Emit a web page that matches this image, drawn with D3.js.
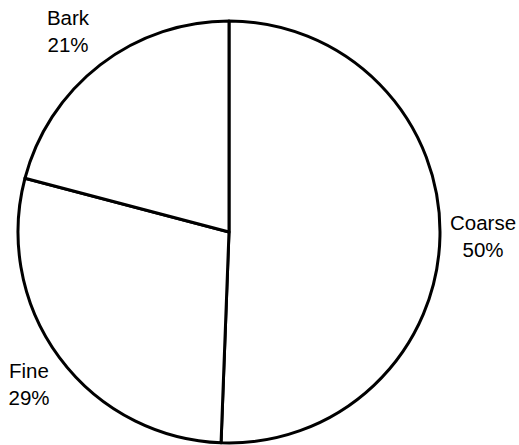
<!DOCTYPE html>
<html><head><meta charset="utf-8">
<script src="https://cdn.jsdelivr.net/npm/d3@7"></script>
<style>body{margin:0;background:#fff}svg{display:block}</style>
</head><body>
<svg id="c" width="519" height="445"></svg>
<script>
const categories = ["Coarse", "Fine", "Bark"];
const values = [50.6, 28.5, 20.9];
const pctLabels = ["50%", "29%", "21%"];

const svg = d3.select("#c");
const cx = 229, cy = 232, r = 211;
const g = svg.append("g").attr("transform", `translate(${cx},${cy})`);
const pie = d3.pie().sort(null).value(d => d)(values);
const arc = d3.arc().innerRadius(0).outerRadius(r);
g.selectAll("path").data(pie).join("path")
  .attr("d", arc).attr("fill", "#fff").attr("stroke", "#000")
  .attr("stroke-width", 3).attr("stroke-linejoin", "round");

const labelPos = [[483, 230], [29, 378], [68, 25]];
categories.forEach((c, i) => {
  const t = svg.append("text").attr("text-anchor", "middle")
    .attr("font-family", "Liberation Sans, Arial, sans-serif")
    .attr("font-size", 20.5).attr("fill", "#000");
  t.append("tspan").attr("x", labelPos[i][0]).attr("y", labelPos[i][1]).text(c);
  t.append("tspan").attr("x", labelPos[i][0]).attr("y", labelPos[i][1] + 27).text(pctLabels[i]);
});
</script>
</body></html>
